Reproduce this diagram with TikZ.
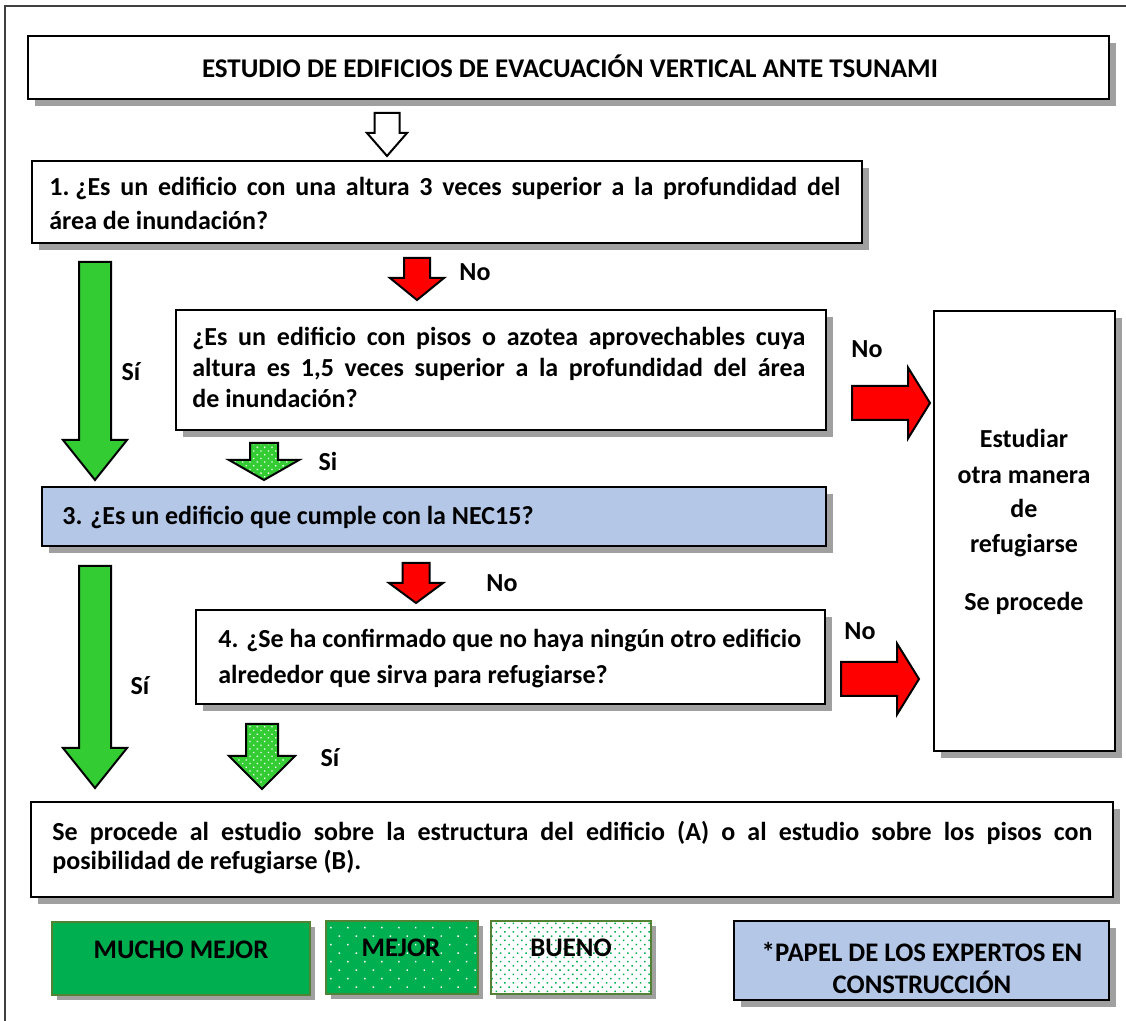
\documentclass[tikz,border=0pt]{standalone}
\usepackage{fontspec}
\setmainfont{Carlito}
\usetikzlibrary{shadows,patterns.meta,fit}
\definecolor{shgray}{RGB}{160,160,160}
\definecolor{lgreen}{RGB}{51,204,51}
\definecolor{dgreen}{RGB}{0,176,80}
\definecolor{lblue}{RGB}{180,199,231}
\definecolor{legborder}{RGB}{84,130,53}
\newcommand\blockdown[7]{\draw[#1] ({#2-#6},#3) -- ({#2+#6},#3) -- ({#2+#6},#4) -- ({#2+#7},#4) -- (#2,#5) -- ({#2-#7},#4) -- ({#2-#6},#4) -- cycle;}
\newcommand\blockright[7]{\draw[#1] (#3,{#2-#6}) -- (#4,{#2-#6}) -- (#4,{#2-#7}) -- (#5,#2) -- (#4,{#2+#7}) -- (#4,{#2+#6}) -- (#3,{#2+#6}) -- cycle;}
\tikzset{
  mainbox/.style={draw=black, line width=1.2pt, fill=white, inner sep=0pt,
    drop shadow={shadow xshift=3.5pt, shadow yshift=-3.5pt, fill=shgray, opacity=1}},
  legbox/.style={draw=legborder, line width=0.6pt, inner sep=0pt,
    drop shadow={shadow xshift=2.5pt, shadow yshift=-2.5pt, fill=shgray, opacity=1}},
  txt/.style={font=\bfseries\fontsize{13}{15}\selectfont, inner sep=0pt},
  ltxt/.style={txt, anchor=base west},
  lab/.style={txt, anchor=center},
  legtxt/.style={lab, font=\bfseries\fontsize{13.4}{15}\selectfont},
  arrbase/.style={draw=black, line width=1pt, miter limit=10},
  hollow/.style={arrbase, fill=white},
  redarr/.style={arrbase, fill=red},
  greenarr/.style={arrbase, fill=lgreen},
  dotarr/.style={arrbase, preaction={fill=lgreen},
    pattern={Dots[distance=2.6pt, radius=0.45pt, angle=45]}, pattern color=white},
}
\begin{document}
\begin{tikzpicture}[x=0.5pt,y=-0.5pt]
\useasboundingbox (0,0) rectangle (1126,1021);
% outer frame
\draw[line width=0.8pt, black!75] (5,1021) -- (5,6) -- (1126,6);

% boxes
\node[mainbox, fit={(28,36)(1109,99)}] (title) {};
\node[mainbox, fit={(32,161)(862,243)}] (q1) {};
\node[mainbox, fit={(176,310)(826,430)}] (q2) {};
\node[mainbox, fill=lblue, fit={(42,487)(826,546)}] (q3) {};
\node[mainbox, fit={(196,610)(825,704)}] (q4) {};
\node[mainbox, fit={(934,311)(1115,751)}] (alt) {};
\node[mainbox, fit={(31,802)(1113,897)}] (res) {};

% legend
\node[legbox, fill=dgreen, fit={(52,922)(310,995)}] (l1) {};
\node[legbox, preaction={fill=dgreen}, pattern={Dots[distance=6pt, radius=0.5pt, angle=45]}, pattern color=white, fit={(326,921)(478,994)}] (l2) {};
\node[legbox, preaction={fill=white}, pattern={Dots[distance=3pt, radius=0.55pt, angle=45]}, pattern color=dgreen, fit={(491,921)(651,994)}] (l3) {};
\node[mainbox, fill=lblue, fit={(734,921)(1109,1000)}] (l4) {};

% texts
\node[txt, font=\bfseries\fontsize{13.5}{15}\selectfont] (titletxt) at (570,66) {ESTUDIO DE EDIFICIOS DE EVACUACIÓN VERTICAL ANTE TSUNAMI};

\node[ltxt] (q1a) at (49,196) {\makebox[395.5pt][s]{1.\kern0.23em¿Es un edificio con una altura 3 veces superior a la profundidad del}};
\node[ltxt] (q1b) at (49,230) {área de inundación?};

\node[ltxt] (q2a) at (192,346) {\makebox[306.5pt][s]{¿Es un edificio con pisos o azotea aprovechables cuya}};
\node[ltxt] (q2b) at (192,377) {\makebox[306.5pt][s]{altura es 1,5 veces superior a la profundidad del área}};
\node[ltxt] (q2c) at (192,408) {de inundación?};

\node[ltxt] (q3a) at (62,525) {3. ¿Es un edificio que cumple con la NEC15?};

\node[ltxt] (q4a) at (218,648) {4. ¿Se ha confirmado que no haya ningún otro edificio};
\node[ltxt] (q4b) at (218,684) {alrededor que sirva para refugiarse?};

\node[ltxt] (resa) at (52,841) {\makebox[520pt][s]{Se procede al estudio sobre la estructura del edificio (A) o al estudio sobre los pisos con}};
\node[ltxt] (resb) at (52,870) {posibilidad de refugiarse (B).};

\node[txt, anchor=base] (alt1) at (1024,448) {Estudiar};
\node[txt, anchor=base] (alt2) at (1024,484) {otra manera};
\node[txt, anchor=base] (alt3) at (1024,518) {de};
\node[txt, anchor=base] (alt4) at (1024,553) {refugiarse};
\node[txt, anchor=base] (alt5) at (1024,611) {Se procede};

\node[legtxt] (l1t) at (181,950) {MUCHO MEJOR};
\node[legtxt] (l2t) at (401,948) {MEJOR};
\node[legtxt] (l3t) at (571,948) {BUENO};
\node[legtxt] (l4t) at (922,952) {*PAPEL DE LOS EXPERTOS EN};
\node[legtxt] (l4u) at (922,982) {CONSTRUCCIÓN};

% arrows
\blockdown{hollow}{387}{113}{133}{156}{12.5}{20}
\blockdown{redarr}{417}{258}{278}{300}{13}{27}
\blockdown{greenarr}{95}{262}{440}{480}{16}{32}
\blockdown{dotarr}{264}{443}{460}{480}{14}{35}
\blockdown{redarr}{416}{563}{583}{603}{13.5}{27}
\blockdown{greenarr}{95}{566}{748}{788}{16}{32}
\blockdown{dotarr}{262}{724}{756}{789}{16}{33}
\blockright{redarr}{403}{852}{908}{930}{17}{35.5}
\blockright{redarr}{679}{841}{897}{919}{17}{35.5}

% arrow labels
\node[lab] (n1) at (475,272) {No};
\node[lab] (s1) at (131,372) {Sí};
\node[lab] (n2) at (867,349) {No};
\node[lab] (s2) at (328,461) {Si};
\node[lab] (n3) at (502,583) {No};
\node[lab] (n4) at (860,631) {No};
\node[lab] (s3) at (140,686) {Sí};
\node[lab] (s4) at (330,758) {Sí};
\end{tikzpicture}
\end{document}
